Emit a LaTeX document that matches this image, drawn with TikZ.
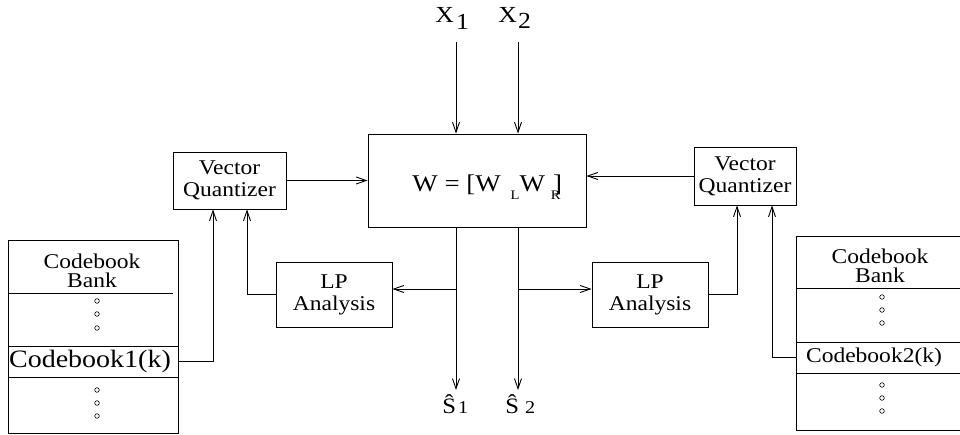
\documentclass[tikz,border=0pt]{standalone}
\usepackage{fontspec}
\setmainfont[FakeStretch=1.12]{Liberation Serif}
\usetikzlibrary{arrows.meta}

\begin{document}
\begin{tikzpicture}[x=1pt, y=-1pt, line width=0.9pt,
  arr/.style={-{Straight Barb[length=10pt,width=7pt]}},
  blk/.style={draw, inner sep=0, align=center, font=\fontsize{21}{22}\selectfont},
  txt/.style={inner sep=0, align=center, font=\fontsize{21}{22}\selectfont},
  dot/.style={line width=0.6pt}
]
\useasboundingbox (0,0) rectangle (960,435);
\clip (0,0) rectangle (960,435);

% central mixing block
\node[blk, minimum width=218, minimum height=93] (W) at (477,180.5) {};
\node[anchor=base west, inner sep=0, font=\fontsize{24}{24}\selectfont] (Wtext) at (412,192)
  {W = [W\hspace{10pt}\raisebox{-8pt}{\fontsize{13}{13}\selectfont L}W\hspace{8pt}]\hspace{-11pt}\raisebox{-8pt}{\fontsize{13}{13}\selectfont R}};

% inputs
\node[anchor=base west, inner sep=0, font=\fontsize{23}{23}\selectfont] (x1) at (435,23) {X\hspace{2pt}\raisebox{-7pt}{1}};
\node[anchor=base west, inner sep=0, font=\fontsize{23}{23}\selectfont] (x2) at (498,23) {X\hspace{1pt}\raisebox{-6pt}{2}};
\coordinate (x1s) at (456,42);
\coordinate (x2s) at (518,42);

% outputs
\node[anchor=base west, inner sep=0, font=\fontsize{22}{22}\selectfont] (s1) at (442,413) {\^{S}\hspace{2pt}{\fontsize{18}{18}\selectfont 1}};
\node[anchor=base west, inner sep=0, font=\fontsize{22}{22}\selectfont] (s2) at (505,413) {\^{S}\hspace{6pt}{\fontsize{18}{18}\selectfont 2}};
\coordinate (s1tip) at (456,390);
\coordinate (s2tip) at (518,390);

% quantizers and LP analysis blocks
\node[blk, minimum width=113, minimum height=57] (vq1) at (229.5,180.5) {Vector\\Quantizer};
\node[blk, minimum width=102, minimum height=58] (vq2) at (745,176) {Vector\\Quantizer};
\node[blk, minimum width=116, minimum height=65] (lp1) at (334,294.5) {LP\\Analysis};
\node[blk, minimum width=116, minimum height=65] (lp2) at (650,294.5) {LP\\Analysis};

% codebook bank 1
\node[draw, inner sep=0, minimum width=170, minimum height=193] (cb1) at (93,336.5) {};
\draw (8,293) -- (173,293);
\draw (8,346) -- (178,346);
\draw (8,377) -- (178,377);
\node[txt, font=\fontsize{21}{19}\selectfont] (cb1head) at (92,271) {Codebook\\Bank};
\node[txt, font=\fontsize{25}{25}\selectfont] (cb1row) at (90,361.5) {Codebook1(k)};
\foreach \yy in {301,314,328,390,403,416} \draw[dot] (97,\yy) circle (2.3);

% codebook bank 2 (runs past the right edge)
\node[inner sep=0, minimum width=156, minimum height=194] (cb2) at (874,333) {};
\draw (965,236) -| (796,430) -- (965,430);
\draw (796,288) -- (965,288);
\draw (796,342) -- (965,342);
\draw (796,373) -- (965,373);
\node[txt, font=\fontsize{21}{19}\selectfont] (cb2head) at (880,266) {Codebook\\Bank};
\node[txt] (cb2row) at (874,357.5) {Codebook2(k)};
\foreach \yy in {297,310,323,385,398,411} \draw[dot] (882,\yy) circle (2.3);

% connectors
\draw[arr] (x1s) -- (x1s |- W.north);
\draw[arr] (x2s) -- (x2s |- W.north);
\draw[arr] (W.south -| s1tip) -- (s1tip);
\draw[arr] (W.south -| s2tip) -- (s2tip);
\coordinate (b1) at (456,289);
\coordinate (b2) at (518,289);
\draw[arr] (b1) -- (b1 -| lp1.east);
\draw[arr] (b2) -- (b2 -| lp2.west);
\draw[arr] (vq1.east) -- (vq1.east -| W.west);
\draw[arr] (vq2.west) -- (vq2.west -| W.east);
\draw[arr] (lp1.west) -| ([xshift=17.5pt]vq1.south);
\draw[arr] (lp2.east) -| ([xshift=-8pt]vq2.south);
\draw[arr] (cb1row.east -| cb1.east) -| ([xshift=-16.5pt]vq1.south);
\draw[arr] (cb2row.west -| cb2.west) -| ([xshift=27pt]vq2.south);
\end{tikzpicture}
\end{document}
